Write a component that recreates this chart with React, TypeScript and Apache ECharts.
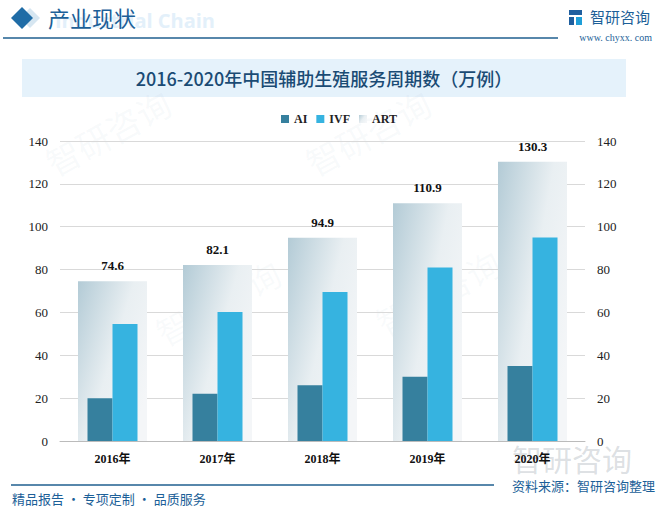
import React, { useEffect, useRef } from "react";
import * as echarts from "echarts";

const categories = ["2016年", "2017年", "2018年", "2019年", "2020年"];
const aiValues = [20, 22, 26, 30, 35];
const ivfValues = [54.6, 60.2, 69.5, 81, 95];
const artValues = [74.6, 82.1, 94.9, 110.9, 130.3];
const seriesNames = ["AI", "IVF", "ART"];

const serif = "'Liberation Serif', 'DejaVu Serif', 'Noto Sans CJK SC', serif";
const cjk = "'Noto Sans CJK SC', sans-serif";

export default function App() {
  const ref = useRef<HTMLDivElement>(null);
  useEffect(() => {
    if (!ref.current) return;
    const chart = echarts.init(ref.current, null, { renderer: "svg" });
    const artGrad = new echarts.graphic.LinearGradient(0, 0, 1, 0.7, [
      { offset: 0, color: "#b3cbd6" },
      { offset: 0.55, color: "#e9eff2" },
      { offset: 1, color: "#f4f6f8" },
    ]);
    const wm = (x: number, y: number, size: number, op: number) => ({
      type: "text",
      x,
      y,
      rotation: 0.5,
      silent: true,
      z: 0,
      style: { text: "智研咨询", fill: `rgba(150,175,195,${op})`, font: `${size}px ${cjk}` },
    });
    chart.setOption({
      animation: false,
      backgroundColor: "#ffffff",
      legend: {
        data: seriesNames,
        top: 108,
        left: 276,
        itemWidth: 8,
        itemHeight: 8,
        itemGap: 9,
        icon: "rect",
        textStyle: { fontFamily: serif, fontWeight: "bold", fontSize: 12, color: "#222" },
      },
      grid: { left: 60, right: 73, top: 141, bottom: 67 },
      xAxis: [
        {
          type: "category",
          data: categories,
          axisLine: { lineStyle: { color: "#bbbbbb" } },
          axisTick: { show: false },
          axisLabel: { fontFamily: serif, fontWeight: "bold", fontSize: 12, color: "#111", margin: 12 },
        },
        { type: "category", data: categories, show: false },
      ],
      yAxis: [
        {
          type: "value",
          min: 0,
          max: 140,
          interval: 20,
          axisLine: { show: false },
          axisTick: { show: false },
          splitLine: { lineStyle: { color: "#d9d9d9" } },
          axisLabel: { fontFamily: serif, fontSize: 13, color: "#222", margin: 12 },
        },
        {
          type: "value",
          min: 0,
          max: 140,
          interval: 20,
          position: "right",
          axisLine: { show: false },
          axisTick: { show: false },
          splitLine: { show: false },
          axisLabel: { fontFamily: serif, fontSize: 13, color: "#222", margin: 12 },
        },
      ],
      series: [
        {
          name: "AI",
          type: "bar",
          xAxisIndex: 1,
          data: aiValues,
          barWidth: 25,
          barGap: "0%",
          itemStyle: { color: "#36809e" },
          z: 3,
        },
        {
          name: "IVF",
          type: "bar",
          xAxisIndex: 1,
          data: ivfValues,
          barWidth: 25,
          barGap: "0%",
          itemStyle: { color: "#36b3e0" },
          z: 3,
        },
        {
          name: "ART",
          type: "bar",
          xAxisIndex: 0,
          data: artValues,
          barWidth: 69,
          itemStyle: { color: artGrad },
          z: 1,
          label: {
            show: true,
            position: "top",
            distance: 9,
            fontFamily: serif,
            fontWeight: "bold",
            fontSize: 13,
            color: "#111",
          },
        },
      ],
      graphic: [
        wm(40, 150, 34, 0.07),
        wm(300, 150, 34, 0.07),
        wm(150, 320, 34, 0.06),
        wm(370, 310, 34, 0.06),
        {
          type: "text",
          x: 512,
          y: 443,
          silent: true,
          z: -1,
          style: { text: "智研咨询", fill: "rgba(140,150,160,0.3)", font: `30px ${cjk}` },
        },
        // header
        {
          type: "polygon",
          shape: { points: [[30, 8], [40, 18], [30, 28], [20, 18]] },
          style: { fill: "#d6e6f1" },
        },
        {
          type: "polygon",
          shape: { points: [[22, 7], [33, 18], [22, 29], [11, 18]] },
          style: { fill: "#1f6ca6" },
        },
        {
          type: "text",
          x: 55,
          y: 10,
          z: -1,
          style: { text: "Industrial Chain", fill: "#e3f0fa", font: `bold 20px 'Open Sans', sans-serif` },
        },
        {
          type: "text",
          x: 48,
          y: 6,
          style: { text: "产业现状", fill: "#1c5f98", font: `22px ${cjk}` },
        },
        {
          type: "line",
          shape: { x1: 3, y1: 38, x2: 558, y2: 38 },
          style: { stroke: "#1f5f8f", lineWidth: 1.5 },
        },
        // logo
        { type: "rect", shape: { x: 569, y: 10, width: 13, height: 5 }, style: { fill: "#1f5f9f" } },
        { type: "rect", shape: { x: 569, y: 17, width: 5, height: 8 }, style: { fill: "#1f5f9f" } },
        { type: "rect", shape: { x: 576, y: 17, width: 6, height: 8 }, style: { fill: "#1f9fd8" } },
        {
          type: "text",
          x: 590,
          y: 9,
          style: { text: "智研咨询", fill: "#1c5f98", font: `15px ${cjk}` },
        },
        {
          type: "text",
          x: 652,
          y: 32,
          style: { text: "www. chyxx. com", fill: "#1c5f98", font: `10px ${serif}`, align: "right" },
        },
        // title box
        {
          type: "rect",
          shape: { x: 22, y: 59, width: 604, height: 38 },
          style: { fill: "#e5f2fb" },
          z: -1,
        },
        {
          type: "text",
          x: 324,
          y: 78,
          style: {
            text: "2016-2020年中国辅助生殖服务周期数（万例）",
            fill: "#1a4b74",
            font: `500 18px ${cjk}`,
            align: "center",
            verticalAlign: "middle",
          },
        },
        // footer
        {
          type: "line",
          shape: { x1: 11, y1: 485, x2: 494, y2: 485 },
          style: { stroke: "#1f5f8f", lineWidth: 1.5 },
        },
        {
          type: "text",
          x: 12,
          y: 492,
          style: { text: "精品报告 · 专项定制 · 品质服务", fill: "#1c5f98", font: `13px ${cjk}` },
        },
        {
          type: "text",
          x: 655,
          y: 479,
          style: { text: "资料来源：智研咨询整理", fill: "#1c5f98", font: `13px ${cjk}`, align: "right" },
        },
      ],
    });
    return () => chart.dispose();
  }, []);
  return (
    <div
      ref={ref}
      style={{ position: "fixed", left: 0, top: 0, width: 658, height: 508 }}
    />
  );
}
